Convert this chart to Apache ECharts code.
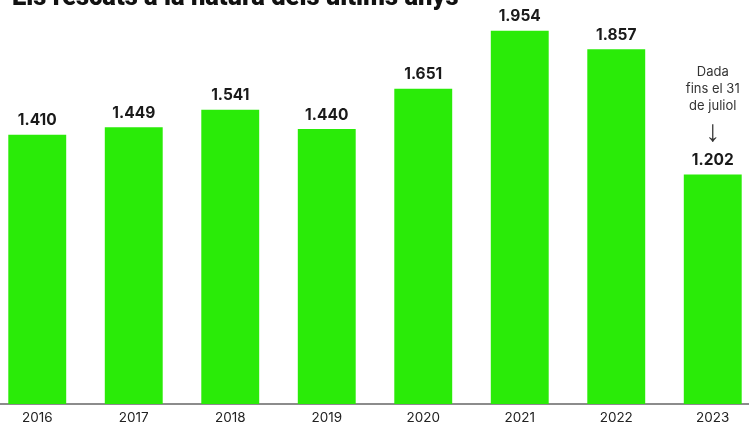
<!DOCTYPE html>
<html><head><meta charset="utf-8">
<script src="https://cdn.jsdelivr.net/npm/echarts@6/dist/echarts.min.js"></script>
<style>html,body{margin:0;padding:0;background:#fff}#c{width:749px;height:423px}</style>
</head><body><div id="c"></div>
<script>
const title = "Els rescats a la natura dels últims anys";
const years = ["2016","2017","2018","2019","2020","2021","2022","2023"];
const rescues = [1410, 1449, 1541, 1440, 1651, 1954, 1857, 1202];
const noteLines = ["Dada", "fins el 31", "de juliol"];
const noteYear = "2023";

const fmt = v => { const s = String(v); return s.length > 3 ? s.slice(0, s.length-3) + "." + s.slice(-3) : s; };

const chart = echarts.init(document.getElementById('c'), null, {renderer:'canvas'});
chart.setOption({
  animation: false,
  title: {
    text: title, left: 7, top: -19.5,
    textStyle: {fontFamily: "Roboto", fontWeight: 900, fontSize: 25.5, color: "#111"}
  },
  grid: {left: -11, width: 772, top: 22, bottom: 19, containLabel: false, outerBoundsMode: 'none'},
  xAxis: {
    type: 'category', data: years,
    axisLine: {lineStyle: {color: '#666', width: 1.5}},
    axisTick: {show: false},
    axisLabel: {color: '#222', fontSize: 13.5, fontFamily: 'Inter', margin: 6.5}
  },
  yAxis: {type: 'value', min: 0, max: 2000, show: false, splitLine: {show: false}},
  series: [{
    type: 'bar', data: rescues.map((v, i) => ({
      value: v,
      label: years[i] === noteYear ? {
        formatter: p => noteLines.map(l => '{n|' + l + '}').join('\n') + '\n{a|↓}\n{v|' + fmt(p.value) + '}'
      } : undefined
    })),
    barWidth: '60%',
    itemStyle: {color: '#2aeb08'},
    label: {
      show: true, position: 'top', distance: 4,
      formatter: p => '{v|' + fmt(p.value) + '}',
      rich: {
        v: {fontFamily: 'Inter', fontWeight: 'bold', fontSize: 15.5, color: '#1a1a1a', lineHeight: 20},
        n: {fontFamily: 'Inter', fontSize: 13, color: '#333', lineHeight: 17},
        a: {fontFamily: 'Liberation Sans', fontSize: 30, color: '#333', lineHeight: 36}
      }
    }
  }]
});
</script></body></html>
